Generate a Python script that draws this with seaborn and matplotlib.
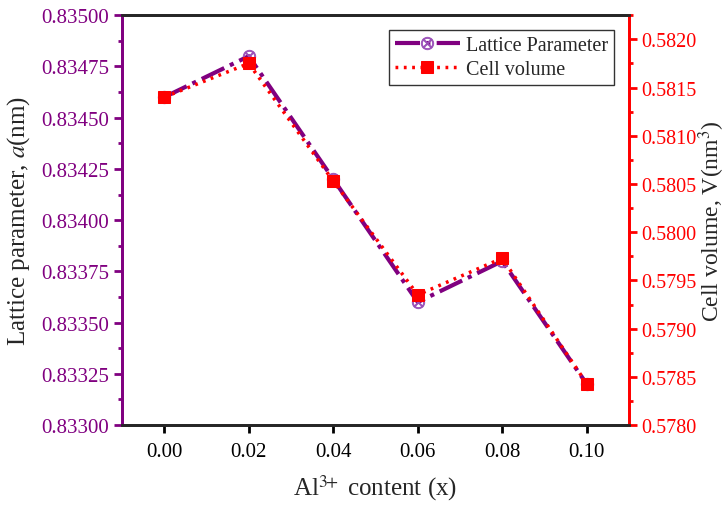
import matplotlib
matplotlib.use("Agg")
import matplotlib.pyplot as plt
import seaborn as sns
import pandas as pd
from matplotlib.ticker import MultipleLocator, AutoMinorLocator

# data
al_content = [0.00, 0.02, 0.04, 0.06, 0.08, 0.10]
lattice_a = [0.8346, 0.8348, 0.8342, 0.8336, 0.8338, 0.8332]
cell_volume = [0.5814, 0.58175, 0.58053, 0.57935, 0.57973, 0.57843]

purple = "#800080"
red = "#ff0000"

sns.set_style("ticks")
plt.rcParams["font.family"] = ["Liberation Serif", "DejaVu Serif"]
plt.rcParams["mathtext.fontset"] = "stix"

df = pd.DataFrame({"x": al_content, "a": lattice_a, "v": cell_volume})

fig = plt.figure(figsize=(7.28, 5.06), dpi=100)
ax = fig.add_axes([0.1676, 0.158, 0.6964, 0.810])
ax2 = ax.twinx()

sns.lineplot(data=df, x="x", y="a", ax=ax, color=purple, lw=3,
             linestyle=(0, (6, 1.5, 1, 1.5)), marker=r"$\otimes$",
             markersize=9, markeredgewidth=0.6, markerfacecolor="#9a4fb8",
             markeredgecolor="#9a4fb8", label="Lattice Parameter", legend=False)
sns.lineplot(data=df, x="x", y="v", ax=ax2, color=red, lw=2.5,
             linestyle=(0, (0.8, 1.6)), marker="s", markersize=8,
             markeredgecolor=red, label="Cell volume", legend=False)

ax.set_xlim(-0.01, 0.11)
ax.set_ylim(0.833, 0.835)
ax2.set_ylim(0.578, 0.58225)

ax.xaxis.set_major_locator(MultipleLocator(0.02))
ax.xaxis.set_minor_locator(AutoMinorLocator(2))
ax.yaxis.set_major_locator(MultipleLocator(0.00025))
ax.yaxis.set_minor_locator(AutoMinorLocator(2))
ax2.yaxis.set_major_locator(MultipleLocator(0.0005))
ax2.yaxis.set_minor_locator(AutoMinorLocator(2))
ax.xaxis.set_major_formatter(plt.FormatStrFormatter("%.2f"))
ax.yaxis.set_major_formatter(plt.FormatStrFormatter("%.5f"))
ax2.yaxis.set_major_formatter(plt.FormatStrFormatter("%.4f"))

for a in (ax, ax2):
    for s in a.spines.values():
        s.set_linewidth(2)
        s.set_visible(True)
ax.spines["left"].set_color(purple)
ax2.spines["left"].set_color(purple)
ax2.spines["right"].set_color(red)
ax.spines["right"].set_color(red)

ax.tick_params(axis="x", which="major", length=6, width=2, labelsize=15, colors="black", pad=6)
ax.tick_params(axis="x", which="minor", length=0)
ax.tick_params(axis="y", which="major", length=6, width=2, labelsize=15, colors=purple)
ax.tick_params(axis="y", which="minor", length=3, width=2, colors=purple)
ax2.tick_params(axis="y", which="major", length=6, width=2, labelsize=14.5, colors=red, pad=3)
ax2.tick_params(axis="y", which="minor", length=3, width=2, colors=red)

ax.set_xlabel(r"Al$^{3\!\!+}$ content (x)", fontsize=18, labelpad=8)
ax.set_ylabel(r"Lattice parameter, $\mathit{a}$(nm)", fontsize=18, labelpad=6)
ax2.set_ylabel(r"Cell volume, V(nm$^{3}$)", fontsize=17, labelpad=0)

h1, l1 = ax.get_legend_handles_labels()
h2, l2 = ax2.get_legend_handles_labels()
leg = ax2.legend(h1 + h2, l1 + l2, loc="upper right", bbox_to_anchor=(0.97, 0.965),
                 fontsize=14.5, frameon=True, fancybox=False, edgecolor="black",
                 handlelength=3.2, borderpad=0.3, labelspacing=0.25, handletextpad=0.3,
                 borderaxespad=0)
leg.get_frame().set_linewidth(1)

fig.savefig("out.png", dpi=100)
